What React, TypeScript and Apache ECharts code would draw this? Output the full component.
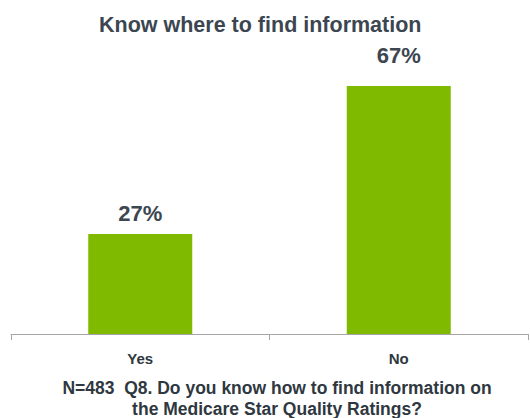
import React, { useEffect, useRef } from "react";
import * as echarts from "echarts";

const titleText = "Know where to find information";
const categories = ["Yes", "No"];
const values = [27, 67];
const labelDistances = [10, 20];
const footerLines = [
  "N=483  Q8. Do you know how to find information on",
  "the Medicare Star Quality Ratings?",
];

export default function App() {
  const ref = useRef<HTMLDivElement>(null);
  useEffect(() => {
    document.body.style.margin = "0";
    if (!ref.current) return;
    const chart = echarts.init(ref.current, undefined, { renderer: "svg" });
    chart.setOption({
      animation: false,
      backgroundColor: "#ffffff",
      title: [
        {
          text: titleText,
          left: 94,
          top: 9,
          textStyle: {
            fontFamily: "Liberation Sans, Arial, sans-serif",
            fontSize: 21.5,
            fontWeight: "bold",
            color: "#3b4650",
          },
        },
        {
          text: footerLines.join("\n"),
          left: 272,
          textAlign: "center",
          top: 372,
          textStyle: {
            fontFamily: "Liberation Sans, Arial, sans-serif",
            fontSize: 17.5,
            fontWeight: "bold",
            color: "#2f3840",
            lineHeight: 21,
            align: "center",
          },
        },
      ],
      grid: { left: 11, right: 2, top: 38, bottom: 84, containLabel: false },
      xAxis: {
        type: "category",
        data: categories,
        boundaryGap: true,
        axisLine: { show: true, lineStyle: { color: "#a6a6a6", width: 1 } },
        axisTick: { show: true, length: 6, lineStyle: { color: "#a6a6a6" } },
        axisLabel: {
          margin: 17,
          fontFamily: "Liberation Sans, Arial, sans-serif",
          fontSize: 15,
          fontWeight: "bold",
          color: "#2f3840",
        },
      },
      yAxis: {
        type: "value",
        min: 0,
        max: 80,
        show: false,
        splitLine: { show: false },
      },
      series: [
        {
          type: "bar",
          barWidth: 104,
          data: values.map((v, i) => ({
            value: v,
            label: { distance: labelDistances[i] },
          })),
          itemStyle: { color: "#7fba00" },
          label: {
            show: true,
            position: "top",
            formatter: "{c}%",
            fontFamily: "Liberation Sans, Arial, sans-serif",
            fontSize: 22,
            fontWeight: "bold",
            color: "#3b4650",
          },
        },
      ],
    });
    return () => chart.dispose();
  }, []);
  return <div ref={ref} style={{ width: 530, height: 418 }} />;
}
